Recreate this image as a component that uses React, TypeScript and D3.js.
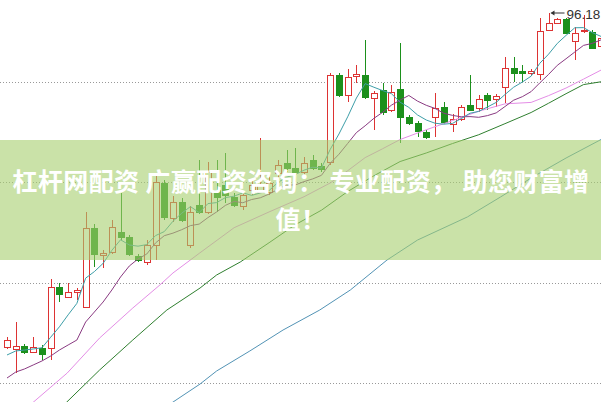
import * as d3 from 'd3';

// candle data (price units)
const opens = [
  54.44, 54.19, 54.56, 53.81, 54.31, 54.31, 61.94, 60.69, 61.31, 59.44,
  69.31, 65.94, 66.31, 68.81, 68.19, 65.81, 65.06, 67.19, 74.94, 70.56,
  72.56, 67.19, 72.19, 71.31, 74.06, 74.69, 73.19, 72.06, 74.06, 73.81,
  73.81, 76.19, 77.44, 76.81, 76.31, 77.81, 77.06, 77.56, 88.44, 85.94,
  88.31, 88.44, 85.56, 86.56, 84.06, 86.69, 83.19, 82.44, 81.31, 83.19,
  84.44, 82.31, 82.94, 84.69, 84.31, 85.94, 85.44, 86.94, 89.31, 88.94,
  88.69, 88.56, 94.06, 94.94, 95.44, 92.69, 93.94, 93.81, 92.06,
];
const closes = [
  55.31, 54.56, 53.81, 54.44, 53.56, 61.94, 61.06, 61.31, 61.56, 69.31,
  66.06, 66.19, 69.44, 68.19, 66.06, 65.31, 67.19, 75.06, 70.69, 72.56,
  70.31, 71.31, 71.31, 76.31, 73.19, 73.44, 72.19, 73.44, 74.69, 74.69,
  74.94, 77.19, 76.81, 76.31, 77.44, 76.81, 76.69, 88.44, 85.94, 88.19,
  88.56, 85.69, 86.19, 83.81, 86.31, 83.19, 82.44, 81.44, 80.69, 84.31,
  82.56, 82.94, 84.44, 84.06, 85.44, 85.31, 85.81, 89.31, 88.69, 88.69,
  88.94, 93.94, 94.94, 95.44, 93.69, 93.69, 94.06, 91.81, 93.06,
];
const highs = [
  55.69, 57.56, 54.81, 55.69, 54.69, 62.94, 62.44, 62.44, 61.81, 71.31,
  69.81, 66.56, 70.31, 73.69, 68.44, 66.06, 67.81, 75.81, 75.31, 73.31,
  73.06, 72.06, 77.81, 77.56, 77.81, 78.69, 73.69, 73.69, 75.31, 80.56,
  75.69, 77.81, 79.06, 79.31, 78.19, 78.44, 77.44, 88.69, 88.69, 89.19,
  89.69, 92.81, 86.44, 87.44, 87.19, 92.44, 83.44, 82.69, 81.56, 86.19,
  85.06, 83.56, 84.69, 88.44, 85.94, 86.19, 86.06, 90.69, 90.69, 89.69,
  89.19, 95.56, 96.18, 95.56, 95.56, 94.44, 95.94, 94.06, 93.44,
];
const lows = [
  54.19, 51.19, 53.56, 53.69, 52.81, 52.81, 60.06, 60.56, 60.31, 59.31,
  64.44, 64.31, 66.06, 67.81, 65.81, 65.06, 64.69, 65.31, 70.31, 70.06,
  70.06, 66.81, 71.06, 71.06, 71.31, 72.44, 71.94, 71.56, 73.44, 73.69,
  73.44, 74.94, 76.31, 75.06, 75.94, 76.56, 76.31, 77.19, 85.69, 85.06,
  87.44, 85.44, 81.56, 83.44, 83.81, 79.94, 82.19, 80.69, 80.44, 80.69,
  82.31, 81.31, 82.69, 83.94, 83.81, 84.06, 84.44, 84.94, 87.56, 87.56,
  88.44, 87.81, 93.94, 94.81, 93.56, 90.31, 93.69, 91.69, 91.81,
];

// moving averages, one value per candle
const ma5 = [
  53.44, 53.94, 54.06, 54.19, 54.34, 55.66, 56.96, 58.46, 59.89, 63.04,
  63.86, 64.89, 66.51, 67.84, 67.19, 67.04, 67.24, 68.36, 68.86, 70.16,
  71.16, 71.99, 71.24, 72.36, 72.49, 73.11, 73.29, 73.71, 73.39, 73.69,
  73.99, 74.99, 75.66, 75.99, 76.54, 76.91, 76.81, 79.14, 81.06, 83.21,
  85.56, 87.36, 86.91, 86.49, 86.11, 85.04, 84.39, 83.44, 82.81, 82.41,
  82.29, 82.39, 82.99, 83.66, 83.89, 84.44, 85.01, 85.99, 86.91, 87.56,
  88.29, 89.91, 91.04, 92.39, 93.39, 94.34, 94.36, 93.74, 93.26,
];
const ma10 = [
  50.56, 51.31, 51.69, 52.19, 52.69, 53.31, 54.06, 54.69, 55.31, 57.56,
  58.81, 60.06, 61.56, 63.19, 64.56, 65.44, 66.06, 67.44, 68.35, 68.67,
  69.1, 69.61, 69.8, 70.61, 71.32, 72.14, 72.64, 72.47, 72.87, 73.09,
  73.55, 74.14, 74.69, 74.69, 75.11, 75.45, 75.9, 77.4, 78.53, 79.88,
  81.24, 82.09, 83.02, 83.77, 84.66, 85.3, 85.88, 85.17, 84.65, 84.26,
  83.66, 83.39, 83.21, 83.24, 83.15, 83.36, 83.7, 84.49, 85.29, 85.73,
  86.36, 87.46, 88.51, 89.65, 90.47, 91.31, 92.14, 92.39, 92.83,
];

// slower averages, read at selected candles
const ma20Idx = [2.5, 6.9, 10.6, 14.4, 17.5, 19, 22, 26, 30, 34, 37, 39, 41, 43, 45, 48, 51, 54, 57, 60, 62, 64, 66, 68];
const ma20Val = [47.06, 51.19, 55.56, 59.31, 62.19, 63.69, 66.14, 69.35, 71.32, 73.22, 74.94, 76.47, 78.11, 79.22, 80.37, 81.59, 82.74, 83.91, 84.83, 85.01, 85.86, 86.81, 87.92, 89.05];
const ma30Idx = [6.5, 10.6, 14.4, 18.3, 22.1, 24, 26.7, 30, 33, 36, 39, 42, 45, 48, 51, 54, 57, 60, 62, 64, 66, 68];
const ma30Val = [47.19, 51.56, 55.31, 59.06, 61.81, 63.44, 65.06, 67.47, 69.72, 71.54, 73.87, 75.84, 77.62, 78.69, 79.87, 80.97, 82.35, 83.75, 84.91, 86.1, 87.24, 87.59];
const ma60Idx = [18.5, 22.1, 24, 27.8, 31.6, 35.8, 39.3, 43.5, 47, 52.7, 56.5, 60.2, 64, 68];
const ma60Val = [47.19, 49.81, 51.44, 53.94, 56.56, 59.06, 61.56, 65.31, 67.81, 70.69, 73.19, 75.69, 78.06, 80.37];

const gridValues = [87.5, 75, 62.5, 50];
const maxLabel = '96.18';
const bannerLines = ['杠杆网配资 广赢配资咨询： 专业配资， 助您财富增', '值！'];

const W = 601;
const H = 402;
const RED = '#dd3333';
const GREEN = '#1c901c';

export default function App() {
  const x = d3.scaleLinear().domain([0, 68]).range([7, 601]);
  const y = d3.scaleLinear().domain([47.5625, 97.8125]).range([H, 0]);

  const line = d3.line<[number, number]>()
    .x(d => x(d[0]))
    .y(d => y(d[1]));

  const seq = (vals: number[]) => vals.map((v, i) => [i, v] as [number, number]);
  const pairs = (idx: number[], vals: number[]) => idx.map((k, i) => [k, vals[i]] as [number, number]);

  const maxI = d3.maxIndex(highs);
  const mx = Math.round(x(maxI)) + 0.5;
  const my = Math.round(y(highs[maxI])) + 0.5;

  return (
    <div style={{ position: 'fixed', left: 0, top: 0 }}>
      <svg width={W} height={H} style={{ display: 'block', background: '#fff' }}>
        {gridValues.map(v => (
          <line key={v} x1={0} x2={W} y1={Math.round(y(v)) + 0.5} y2={Math.round(y(v)) + 0.5}
            stroke="#999" strokeDasharray="1,2" />
        ))}

        {opens.map((o, i) => {
          const c = closes[i];
          const up = c >= o;
          const cx = Math.round(x(i));
          const top = Math.round(y(Math.max(o, c)));
          const bot = Math.round(y(Math.min(o, c)));
          const col = up ? RED : GREEN;
          return (
            <g key={i}>
              <line x1={cx + 0.5} x2={cx + 0.5} y1={Math.round(y(highs[i]))} y2={Math.round(y(lows[i]))} stroke={col} />
              {bot - top < 1 ? (
                <line x1={cx - 3} x2={cx + 4} y1={top + 0.5} y2={top + 0.5} stroke={col} />
              ) : up ? (
                <rect x={cx - 2.5} y={top + 0.5} width={6} height={bot - top} fill="#fff" stroke={col} />
              ) : (
                <rect x={cx - 3} y={top} width={7} height={bot - top + 1} fill={col} />
              )}
            </g>
          );
        })}

        <path d={line(pairs(ma60Idx, ma60Val)) || ''} fill="none" stroke="#5293b5" strokeWidth={1} />
        <path d={line(pairs(ma30Idx, ma30Val)) || ''} fill="none" stroke="#2f7f2f" strokeWidth={1} />
        <path d={line(pairs(ma20Idx, ma20Val)) || ''} fill="none" stroke="#e48de6" strokeWidth={1} />
        <path d={line(seq(ma10)) || ''} fill="none" stroke="#8a3a82" strokeWidth={1} />
        <path d={line(seq(ma5)) || ''} fill="none" stroke="#3d9ea8" strokeWidth={1} />

        <line x1={mx + 2} x2={mx + 15} y1={my - 0.5} y2={my - 0.5} stroke="#333" />
        <polygon points={`${mx + 1},${my - 0.5} ${mx + 5},${my - 3} ${mx + 5},${my + 2}`} fill="#333" />
        <text x={mx + 17} y={my + 5} fontFamily="Liberation Sans, Arial, sans-serif" fontSize={13.5} fill="#333">
          {maxLabel}
        </text>

        <rect x={0} y={140} width={W} height={120} fill="#a6cf6e" opacity={0.6} />
        {bannerLines.map((t, i) => (
          <text key={i} x={301} y={i === 0 ? 191 : 229} textAnchor="middle"
            fontFamily="'Noto Sans CJK SC', sans-serif" fontWeight="bold" fontSize={25}
            letterSpacing={0.4} fill="#fff">
            {t}
          </text>
        ))}
      </svg>
    </div>
  );
}
